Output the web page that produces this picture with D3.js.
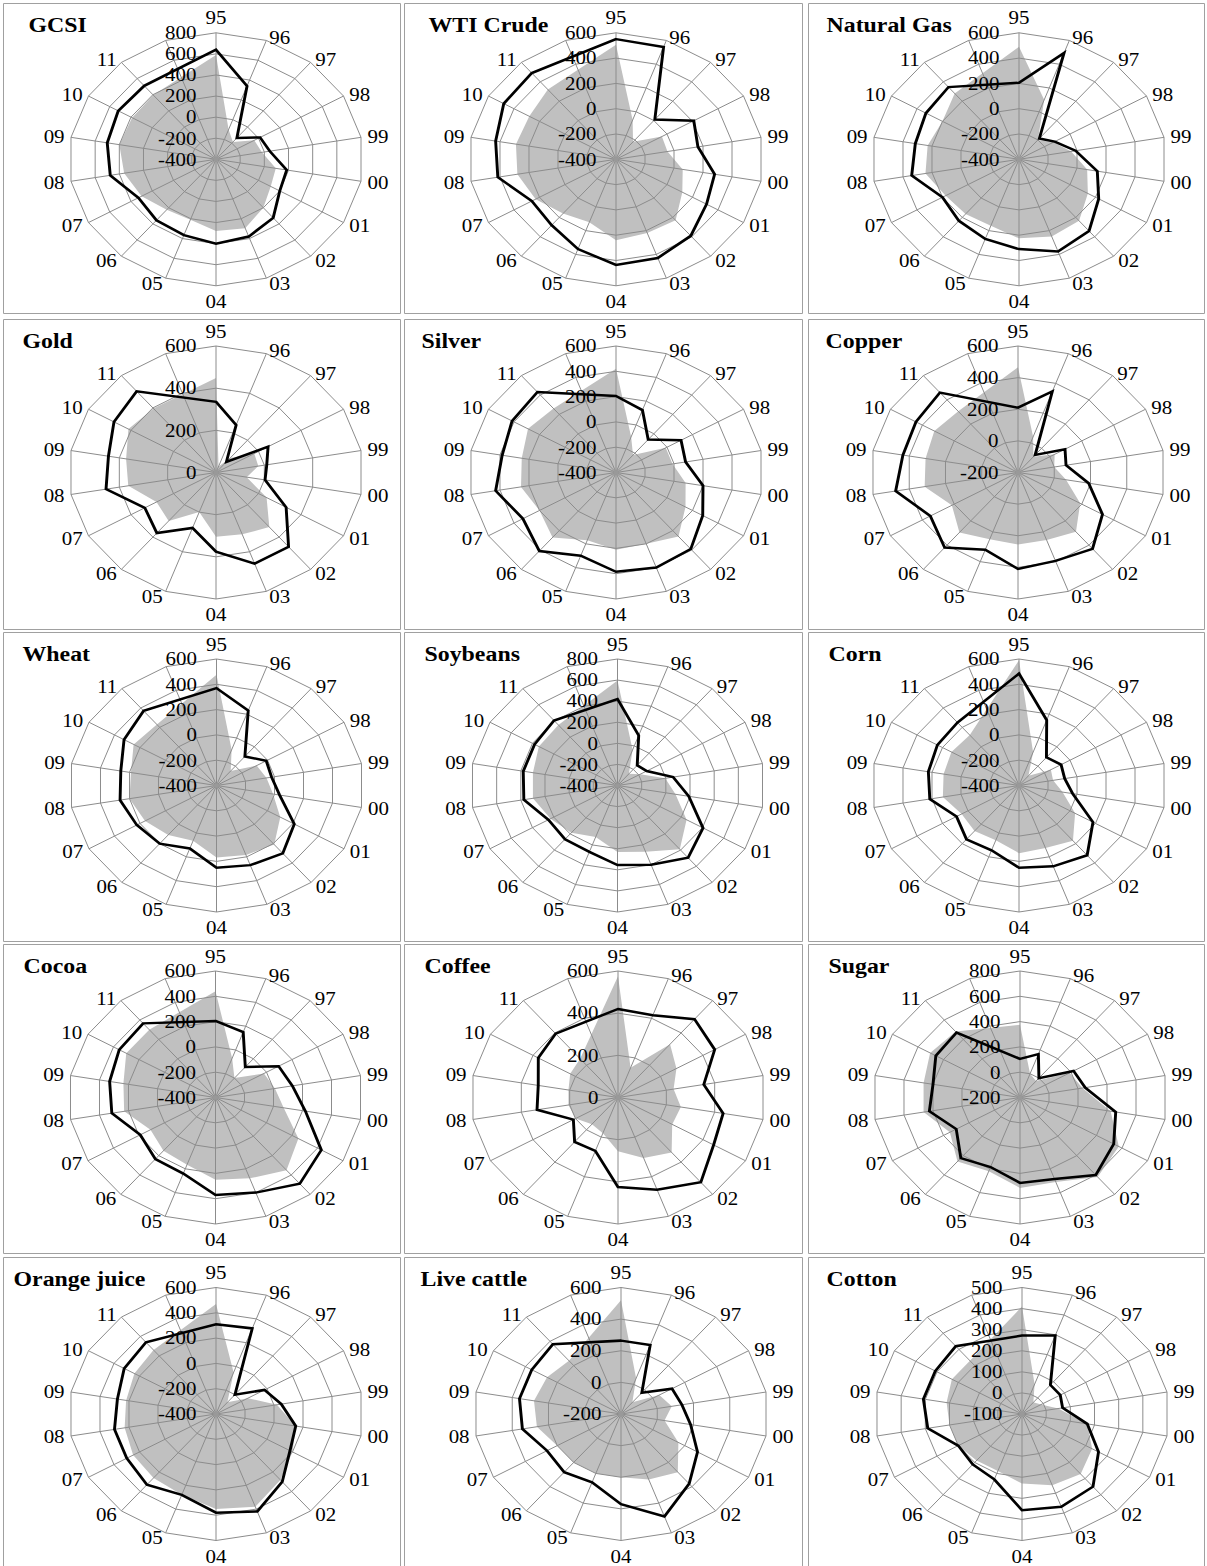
<!DOCTYPE html>
<html>
<head>
<meta charset="utf-8">
<script src="https://cdn.jsdelivr.net/npm/d3@7"></script>
<style>
  body { margin: 0; background: #fff; }
  text { font-family: "Liberation Serif", "Times New Roman", serif; fill: #000; }
</style>
</head>
<body>
<svg id="chart" width="1207" height="1566"></svg>
<script>
// Spoke labels (one spoke per year, 1995-2011); an 18th spoke is drawn but left blank
const years = ["95","96","97","98","99","00","01","02","03","04","05","06","07","08","09","10","11"];
const spokeCount = 18;

// Grey area = first series, black line = second series (one value per year)
const gcsiArea   = [590, -100, -185, -40, -20, 95, 115, 200, 295, 280, 210, 225, 300, 360, 400, 390, 395];
const gcsiLine   = [640, 340, -135, 15, 45, 185, 200, 325, 380, 400, 365, 355, 330, 475, 500, 520, 510];
const wtiArea    = [505, -70, -220, -40, -45, 60, 120, 230, 220, 240, 130, 160, 230, 280, 290, 280, 320];
const wtiLine    = [550, 545, 10, 210, 165, 280, 310, 390, 430, 435, 355, 280, 260, 415, 430, 480, 490];
const gasArea    = [490, 100, -200, -130, -40, 70, 140, 235, 250, 225, 160, 165, 175, 245, 230, 200, 280];
const gasLine    = [205, 495, -185, -120, -10, 140, 225, 340, 375, 310, 270, 235, 200, 340, 315, 330, 345];
const goldArea   = [448, 30, 90, 180, 175, 127, 238, 338, 312, 305, 200, 300, 280, 363, 372, 412, 397];
const goldLine   = [335, 240, 66, 245, 210, 203, 330, 460, 460, 375, 280, 375, 335, 455, 445, 480, 503];
const silverArea = [420, -100, -220, -10, -10, 80, 145, 260, 200, 210, 170, 270, 200, 255, 250, 290, 260];
const silverLine = [205, 125, -60, 110, 80, 200, 280, 390, 400, 385, 300, 410, 330, 430, 385, 415, 430];
const copperArea = [465, 40, -70, 30, 0, 65, 190, 290, 255, 255, 250, 295, 215, 315, 310, 325, 305];
const copperLine = [210, 345, -55, 95, 65, 190, 330, 430, 395, 410, 320, 420, 350, 475, 435, 440, 460];
const wheatArea  = [475, -100, -250, -85, -55, -10, 100, 210, 185, 170, 65, 110, 160, 200, 190, 250, 230];
const wheatLine  = [370, 230, -100, -10, -20, 35, 210, 300, 270, 250, 130, 200, 225, 265, 260, 325, 370];
const soyArea    = [595, -40, -255, -185, -5, 80, 250, 390, 270, 230, 120, 185, 230, 300, 300, 340, 350];
const soyLine    = [420, 105, -150, -125, 60, 190, 405, 495, 400, 355, 270, 265, 250, 375, 380, 380, 405];
const cornArea   = [590, -120, -300, -150, -165, -100, 40, 170, 125, 135, 60, 70, 50, 125, 120, 130, 120];
const cornLine   = [485, 150, -110, -70, -85, -30, 180, 320, 280, 250, 145, 155, 90, 215, 225, 240, 250];
const cocoaArea  = [440, -70, -200, -20, 10, 70, 250, 350, 280, 250, 165, 150, 110, 230, 235, 300, 300];
const cocoaLine  = [205, 150, -85, 95, 130, 220, 430, 490, 400, 370, 240, 235, 190, 315, 330, 355, 365];
const coffeeArea = [575, 150, 330, 275, 230, 260, 255, 340, 305, 255, 180, 165, 200, 205, 205, 225, 240];
const coffeeLine = [420, 415, 485, 455, 355, 435, 450, 525, 465, 425, 270, 275, 210, 335, 330, 375, 395];
const sugarArea  = [375, 0, -30, 190, 230, 425, 575, 620, 510, 515, 420, 460, 350, 465, 465, 505, 480];
const sugarLine  = [105, 165, 0, 220, 250, 460, 535, 600, 485, 475, 385, 425, 300, 425, 400, 460, 470];
const ojArea     = [470, -50, -280, -150, 20, 150, 200, 280, 380, 350, 280, 260, 250, 230, 220, 240, 260];
const ojLine     = [310, 320, -200, -20, 50, 150, 180, 300, 420, 380, 280, 330, 300, 300, 280, 320, 340];
const cattleArea = [520, 40, -104, 40, 80, 40, 160, 280, 240, 200, 200, 200, 200, 264, 280, 264, 240];
const cattleLine = [264, 264, -24, 120, 136, 184, 280, 376, 490, 370, 260, 280, 264, 344, 360, 360, 376];
const cottonArea = [410, 50, -28, -10, 50, 170, 230, 272, 260, 230, 188, 188, 200, 200, 212, 230, 230];
const cottonLine = [272, 296, 80, 80, 68, 170, 260, 350, 368, 356, 230, 212, 200, 290, 308, 308, 320];

// Value-axis ranges (min at the centre, max on the outer ring) and tick step
const panels = [
  { title: "GCSI",         min: -400, max: 800, step: 200, area: gcsiArea,   line: gcsiLine },
  { title: "WTI Crude",    min: -400, max: 600, step: 200, area: wtiArea,    line: wtiLine },
  { title: "Natural Gas",  min: -400, max: 600, step: 200, area: gasArea,    line: gasLine },
  { title: "Gold",         min: 0,    max: 600, step: 200, area: goldArea,   line: goldLine },
  { title: "Silver",       min: -400, max: 600, step: 200, area: silverArea, line: silverLine },
  { title: "Copper",       min: -200, max: 600, step: 200, area: copperArea, line: copperLine },
  { title: "Wheat",        min: -400, max: 600, step: 200, area: wheatArea,  line: wheatLine },
  { title: "Soybeans",     min: -400, max: 800, step: 200, area: soyArea,    line: soyLine },
  { title: "Corn",         min: -400, max: 600, step: 200, area: cornArea,   line: cornLine },
  { title: "Cocoa",        min: -400, max: 600, step: 200, area: cocoaArea,  line: cocoaLine },
  { title: "Coffee",       min: 0,    max: 600, step: 200, area: coffeeArea, line: coffeeLine },
  { title: "Sugar",        min: -200, max: 800, step: 200, area: sugarArea,  line: sugarLine },
  { title: "Orange juice", min: -400, max: 600, step: 200, area: ojArea,     line: ojLine },
  { title: "Live cattle",  min: -200, max: 600, step: 200, area: cattleArea, line: cattleLine },
  { title: "Cotton",       min: -100, max: 500, step: 100, area: cottonArea, line: cottonLine }
];

// ---- layout (page pixels) ----
const SX = 1.164;          // horizontal stretch of the whole figure
const R = 126.5;           // outer ring radius (vertical)
const colFrames = [[3.5, 400.5], [404.5, 802.5], [808.5, 1204.5]];
const rowFrames = [[3.5, 313.5], [319.5, 629.5], [632.5, 941.5], [944.5, 1253.5], [1257.5, 1580]];
const colCx = [[216, 616, 1019], [216, 616, 1018], [216.5, 617.5, 1019], [215.5, 618, 1020], [216, 621, 1022]];
const rowCy = [159.3, 472.5, 785.5, 1097.5, 1414];
const titleDx = [25, 24, 18, 19, 17, 17, 19, 20, 20, 20, 20, 20, 10, 16, 18];

const svg = d3.select("#chart");
svg.append("rect").attr("width", 1207).attr("height", 1566).attr("fill", "#fff");
const root = svg.append("g").attr("transform", `scale(${SX},1)`);

const angleOf = i => i * 2 * Math.PI / spokeCount;
const gridColor = "#8c8c8c";
const tickText = v => String(v);   // plain hyphen for negatives

panels.forEach((p, k) => {
  const col = k % 3, row = Math.floor(k / 3);
  const [fx0, fx1] = colFrames[col];
  const [fy0, fy1] = rowFrames[row];

  // panel frame
  root.append("rect")
    .attr("x", fx0 / SX).attr("y", fy0)
    .attr("width", (fx1 - fx0) / SX).attr("height", fy1 - fy0)
    .attr("fill", "none").attr("stroke", "#a0a0a0").attr("stroke-width", 1)
    .attr("vector-effect", "non-scaling-stroke");

  const cx = colCx[row][col] / SX, cy = rowCy[row];
  const g = root.append("g").attr("transform", `translate(${cx},${cy})`);

  const r = d3.scaleLinear().domain([p.min, p.max]).range([0, R]);
  const ticks = d3.range(p.min, p.max + p.step / 2, p.step);

  const radar = d3.lineRadial()
    .angle((d, i) => angleOf(i))
    .radius(d => r(d))
    .curve(d3.curveLinearClosed);

  // grey area series
  g.append("path").attr("d", radar(p.area)).attr("fill", "#c0c0c0");

  // rings
  ticks.slice(1).forEach(t => {
    g.append("path")
      .attr("d", radar(d3.range(spokeCount).map(() => t)))
      .attr("fill", "none").attr("stroke", gridColor).attr("stroke-width", 1)
      .attr("vector-effect", "non-scaling-stroke");
  });

  // spokes
  d3.range(spokeCount).forEach(i => {
    const a = angleOf(i);
    g.append("line")
      .attr("x1", 0).attr("y1", 0)
      .attr("x2", R * Math.sin(a)).attr("y2", -R * Math.cos(a))
      .attr("stroke", gridColor).attr("stroke-width", 1)
      .attr("vector-effect", "non-scaling-stroke");
  });
  g.append("circle").attr("r", 2.3).attr("fill", "#999");

  // value-axis labels along the first spoke
  ticks.forEach(t => {
    g.append("text")
      .attr("x", -19.5 / SX).attr("y", -r(t)).attr("dy", "0.35em")
      .attr("text-anchor", "end").attr("font-size", 18)
      .text(tickText(t));
  });

  // year labels around the outer ring
  years.forEach((yr, i) => {
    const a = angleOf(i);
    const s = Math.sin(a), c = Math.cos(a);
    const vx = R * s, vy = -R * c;
    const t = g.append("text").attr("font-size", 18).text(yr);
    if (Math.abs(s) < 0.01) {
      t.attr("x", vx).attr("text-anchor", "middle")
       .attr("y", c > 0 ? vy - 8.5 : vy + 22.3);
    } else {
      const gap = (1 + 5.5 * Math.abs(s)) / SX;
      const off = c > 0 ? -3 * c : -5.5 * c;
      t.attr("x", vx + (s > 0 ? gap : -gap))
       .attr("text-anchor", s > 0 ? "start" : "end")
       .attr("y", vy + off).attr("dy", "0.35em");
    }
  });

  // black line series
  g.append("path").attr("d", radar(p.line))
    .attr("fill", "none").attr("stroke", "#000").attr("stroke-width", 2.5)
    .attr("stroke-linejoin", "miter");

  // panel title
  root.append("text")
    .attr("x", (fx0 + titleDx[k]) / SX).attr("y", fy0 + 28.5)
    .attr("font-size", 20.5).attr("font-weight", "bold")
    .text(p.title);
});
</script>
</body>
</html>
